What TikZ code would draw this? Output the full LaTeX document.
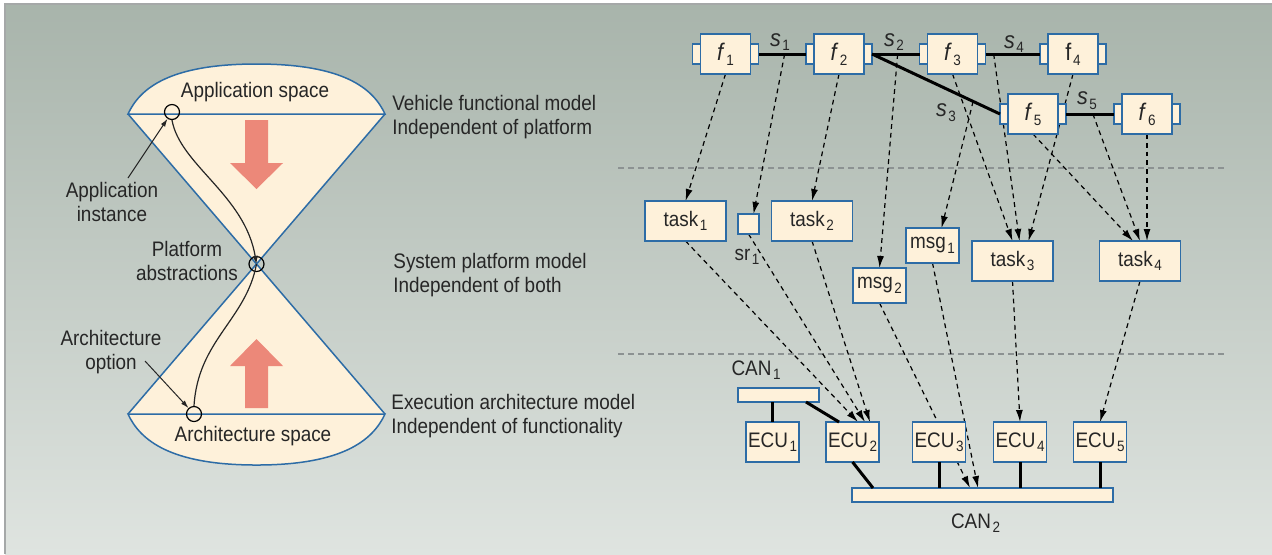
\documentclass[tikz,border=0pt]{standalone}
\usepackage{fontspec}
\setmainfont{Liberation Sans}[FakeStretch=0.9]
\usetikzlibrary{arrows.meta,calc}
\pgfdeclarelayer{canvas}
\pgfdeclarelayer{links}
\pgfsetlayers{canvas,links,main}
\definecolor{bgtop}{RGB}{168,180,171}
\definecolor{bgbot}{RGB}{223,228,224}
\definecolor{framegray}{RGB}{165,168,168}
\definecolor{boxfill}{RGB}{254,241,218}
\definecolor{boxline}{RGB}{45,108,166}
\definecolor{arrowred}{RGB}{236,136,121}
\definecolor{sepgray}{RGB}{140,146,146}
\definecolor{ink}{RGB}{38,38,38}
\newcommand\subn[1]{\kern.8pt\raisebox{-.2em}{\fontsize{7.5}{8}\selectfont #1}}

\begin{document}
\begin{tikzpicture}[x=0.5pt,y=-0.5pt,
  every node/.style={text=ink,inner sep=0pt,font=\fontsize{10.5}{11.8}\selectfont},
  hgline/.style={draw=boxline,line width=0.75pt},
  ring/.style={circle,draw=black,line width=0.6pt,minimum size=7.5pt},
  trace/.style={draw=ink,line width=0.6pt},
  pointer/.style={draw=ink,line width=0.5pt,-{Latex[length=4pt,width=2.5pt]}},
  divider/.style={draw=sepgray,line width=1.4pt,dash pattern=on 3pt off 2pt},
  cell/.style={draw=boxline,fill=boxfill,line width=0.9pt,outer sep=0pt},
  func/.style={cell,minimum width=25pt,minimum height=20pt,font=\fontsize{12}{12}\selectfont},
  port/.style={cell,minimum width=4pt,minimum height=10pt},
  task/.style={cell,minimum width=40.5pt,minimum height=20pt},
  msgbox/.style={cell,minimum width=26.5pt,minimum height=17.5pt},
  ecu/.style={cell,minimum width=26.5pt,minimum height=20pt},
  bus/.style={cell,minimum height=7pt},
  sig/.style={draw=black,line width=1.5pt},
  wire/.style={draw=black,line width=1.5pt},
  siglbl/.style={font=\fontsize{12}{12}\selectfont},
  alloc/.style={draw=black,line width=0.6pt,dash pattern=on 2.4pt off 2pt,-{Latex[length=6pt,width=3.5pt]}}]
\begin{pgfonlayer}{canvas}
\useasboundingbox (0,0) rectangle (1272,554);
\shade [top color=bgtop,bottom color=bgbot] (5,4) rectangle (1272,554);
\draw [framegray,line width=0.8pt] (5,554) -- (5,4) -- (1272,4);
\fill [boxfill] (128,114) .. controls (140,88) and (170,64) .. (256.5,64) .. controls (343,64) and (373,88) .. (385,114) -- (128,414) .. controls (140,440) and (170,465) .. (256.5,465) .. controls (343,465) and (373,440) .. (385,414) -- cycle;
\draw [hgline] (128,114) .. controls (140,88) and (170,64) .. (256.5,64) .. controls (343,64) and (373,88) .. (385,114) -- cycle;
\draw [hgline] (128,414) .. controls (140,440) and (170,465) .. (256.5,465) .. controls (343,465) and (373,440) .. (385,414) -- cycle;
\draw [hgline] (128,114) -- (385,414) (385,114) -- (128,414);
\fill [arrowred] (245,120) -- (268,120) -- (268,163) -- (283,163) -- (256.5,189) -- (230,163) -- (245,163) -- cycle;
\fill [arrowred] (245,408) -- (268,408) -- (268,366) -- (283,366) -- (256.5,339) -- (230,366) -- (245,366) -- cycle;
\draw [divider] (618,168) -- (1227,168);
\draw [divider] (618,354) -- (1227,354);
\end{pgfonlayer}
\node [ring] (appinst) at (172,112) {};
\node [ring] (platabs) at (256.5,264) {};
\node [ring] (archopt) at (194,414) {};
\draw [trace,-{Latex[length=4pt,width=2.8pt]}] (appinst.south) .. controls (180,165) and (245,195) .. (platabs.center);
\draw [trace] (platabs.center) .. controls (246,320) and (198,340) .. (archopt.north);
\node (appspace) at (255,92) {Application space};
\node (archspace) at (253,436) {Architecture space};
\node [align=center] (applbl) at (112,202) {Application\\instance};
\node [align=center] (platlbl) at (187,261) {Platform\\abstractions};
\node [align=center] (archlbl) at (111,352) {Architecture\\option};
\coordinate (aitail) at (128,178);
\coordinate (aotail) at (145,361);
\draw [pointer] (aitail) -- (appinst);
\draw [pointer] (aotail) -- (archopt);
\node [anchor=west,align=left] (vehmodel) at (392,117) {Vehicle functional model\\Independent of platform};
\node [anchor=west,align=left] (platmodel) at (393,275) {System platform model\\Independent of both};
\node [anchor=west,align=left] (execmodel) at (391,416) {Execution architecture model\\Independent of functionality};
\node [func] (f1) at (725.5,54) {\textit{f}\subn{1}};
\node [port,anchor=east] (f1l) at (f1.west) {};
\node [port,anchor=west] (f1r) at (f1.east) {};
\node [func] (f2) at (839,54) {\textit{f}\subn{2}};
\node [port,anchor=east] (f2l) at (f2.west) {};
\node [port,anchor=west] (f2r) at (f2.east) {};
\node [func] (f3) at (952.5,54) {\textit{f}\subn{3}};
\node [port,anchor=east] (f3l) at (f3.west) {};
\node [port,anchor=west] (f3r) at (f3.east) {};
\node [func] (f4) at (1073,54) {f\subn{4}};
\node [port,anchor=east] (f4l) at (f4.west) {};
\node [port,anchor=west] (f4r) at (f4.east) {};
\node [func] (f5) at (1033,114) {\textit{f}\subn{5}};
\node [port,anchor=east] (f5l) at (f5.west) {};
\node [port,anchor=west] (f5r) at (f5.east) {};
\node [func] (f6) at (1147,114) {\textit{f}\subn{6}};
\node [port,anchor=east] (f6l) at (f6.west) {};
\node [port,anchor=west] (f6r) at (f6.east) {};
\draw [sig] (f1r.east) -- (f2l.west);
\draw [sig] (f2r.east) -- (f3l.west);
\draw [sig] (f2r.east) -- (f5l.west);
\draw [sig] (f3r.east) -- (f4l.west);
\draw [sig] (f5r.east) -- (f6l.west);
\node [siglbl] (s1) at (780,42) {\textit{s}\subn{1}};
\node [siglbl] (s2) at (894,42) {\textit{s}\subn{2}};
\node [siglbl] (s3) at (946,113) {\textit{s}\subn{3}};
\node [siglbl] (s4) at (1014,44) {\textit{s}\subn{4}};
\node [siglbl] (s5) at (1087,101) {\textit{s}\subn{5}};
\coordinate (s1tap) at ($(f1r.east)!0.55!(f2l.west)$);
\coordinate (s2tap) at ($(f2r.east)!0.54!(f3l.west)$);
\coordinate (s3tap) at ($(f2r.east)!0.79!(f5l.west)$);
\coordinate (s4tap) at ($(f3r.east)!0.15!(f4l.west)$);
\coordinate (s5tap) at ($(f5r.east)!0.56!(f6l.west)$);
\node [task] (task1) at (685.5,221) {task\subn{1}};
\node [cell,minimum width=10.5pt,minimum height=10pt] (sr1) at (748.5,224) {};
\node (sr1lbl) at (747,257) {sr\subn{1}};
\node [task] (task2) at (812,221) {task\subn{2}};
\node [msgbox] (msg2) at (879.5,285.5) {msg\subn{2}};
\node [msgbox] (msg1) at (932.5,245.5) {msg\subn{1}};
\node [task] (task3) at (1012.5,261) {task\subn{3}};
\node [task] (task4) at (1140,261) {task\subn{4}};
\node [bus,minimum width=40.5pt] (can1) at (778.5,395) {};
\node [bus,minimum width=130.5pt] (can2) at (982.5,495) {};
\node (can1lbl) at (756,370) {CAN\subn{1}};
\node (can2lbl) at (975.5,523) {CAN\subn{2}};
\node [ecu] (ecu1) at (772.5,442) {ECU\subn{1}};
\node [ecu] (ecu2) at (852.5,442) {ECU\subn{2}};
\node [ecu] (ecu3) at (939,442) {ECU\subn{3}};
\node [ecu] (ecu4) at (1020,442) {ECU\subn{4}};
\node [ecu] (ecu5) at (1100,442) {ECU\subn{5}};
\draw [wire] (ecu1.north) -- (ecu1.north |- can1.south);
\draw [wire] ([xshift=13.75pt]can1.south) -- ([xshift=-6.75pt]ecu2.north);
\draw [wire] (ecu2.south) -- ([xshift=10.25pt]ecu2.south |- can2.north);
\draw [wire] (ecu3.south) -- (ecu3.south |- can2.north);
\draw [wire] (ecu4.south) -- (ecu4.south |- can2.north);
\draw [wire] (ecu5.south) -- (ecu5.south |- can2.north);
\begin{pgfonlayer}{links}
\draw [alloc] (f1.south) -- (task1.north);
\draw [alloc] (s1tap) -- ([xshift=2.5pt]sr1.north);
\draw [alloc] (f2.south) -- (task2.north);
\draw [alloc] (s2tap) -- (msg2.north);
\draw [alloc] (s3tap) -- ([xshift=4.5pt]msg1.north);
\draw [alloc] (f3.south) -- (task3.north);
\draw [alloc] (s4tap) -- ([xshift=3.5pt]task3.north);
\draw [alloc] (f4.south) -- ([xshift=8pt]task3.north);
\draw [alloc] (f5.south) -- ([xshift=-3.5pt]task4.north);
\draw [alloc] (s5tap) -- (task4.north);
\draw [alloc] (f6.south) -- ([xshift=3.5pt]task4.north);
\draw [alloc] (task1.south) -- ([xshift=2.75pt]ecu2.north);
\draw [alloc] (sr1.south) -- ([xshift=6.25pt]ecu2.north);
\draw [alloc] (task2.south) -- ([xshift=8.75pt]ecu2.north);
\draw [alloc] (msg2.south) -- ([xshift=-6.25pt]can2.north);
\draw [alloc] (msg1.south) -- ([xshift=-2.25pt]can2.north);
\draw [alloc] (task3.south) -- (ecu4.north);
\draw [alloc] (task4.south) -- (ecu5.north);
\end{pgfonlayer}
\end{tikzpicture}
\end{document}
